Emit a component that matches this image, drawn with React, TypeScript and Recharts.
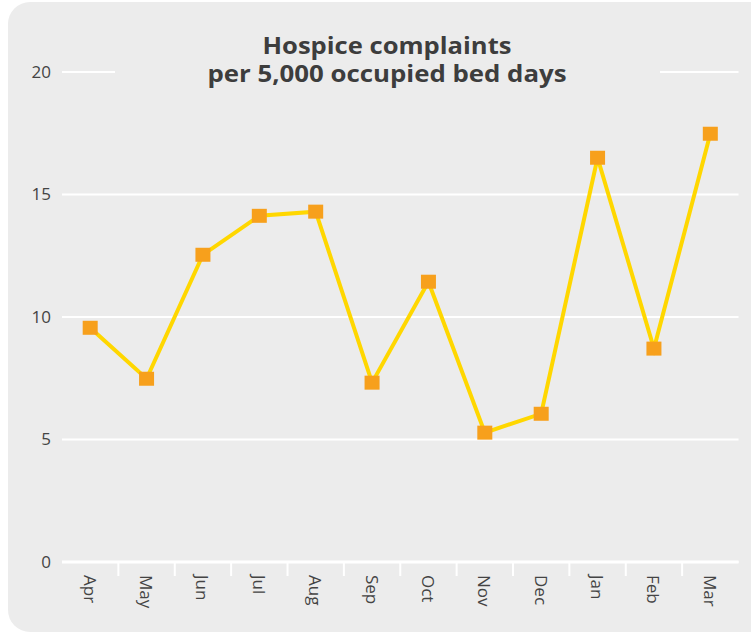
import React from "react";
import { LineChart, Line, XAxis, YAxis, CartesianGrid, Customized } from "recharts";

const months = ["Apr", "May", "Jun", "Jul", "Aug", "Sep", "Oct", "Nov", "Dec", "Jan", "Feb", "Mar"];
const complaints = [9.56, 7.48, 12.54, 14.13, 14.3, 7.32, 11.44, 5.28, 6.05, 16.5, 8.71, 17.48];
const yTicks = [0, 5, 10, 15, 20];
const titleLines = ["Hospice complaints", "per 5,000 occupied bed days"];

const data = months.map((m, i) => ({ month: m, value: complaints[i] }));

const BG = "#ececec";
const TEXT = "#444444";
const FONT = "'Open Sans', sans-serif";

const SquareDot = (props: any) => {
  const { cx, cy } = props;
  if (cx == null || cy == null) return null;
  return <rect x={cx - 7.5} y={cy - 7} width={15} height={14} fill="#f7a01c" />;
};

const XTick = (props: any) => {
  const { x, y, payload, index } = props;
  const step = 676.4 / 12;
  return (
    <g>
      {index > 0 && (
        <line x1={x - step / 2} x2={x - step / 2} y1={y - 1} y2={y + 12} stroke="#ffffff" strokeWidth={2} />
      )}
      <text
        transform={`translate(${x},${y + 11}) rotate(90)`}
        textAnchor="start"
        dominantBaseline="central"
        fill={TEXT}
        fontSize={17}
        fontFamily={FONT}
      >
        {payload.value}
      </text>
    </g>
  );
};

const YTick = (props: any) => {
  const { x, y, payload } = props;
  return (
    <text x={x} y={y} dy="0.35em" textAnchor="end" fill={TEXT} fontSize={17} fontFamily={FONT}>
      {payload.value}
    </text>
  );
};

const Title = () => (
  <g>
    <rect x={115} y={22} width={545} height={68} fill={BG} />
    <text x={387} y={54} textAnchor="middle" fill="#3d3d3d" fontSize={23} fontWeight="bold" fontFamily={FONT} textLength={249} lengthAdjust="spacingAndGlyphs">
      {titleLines[0]}
    </text>
    <text x={387} y={82} textAnchor="middle" fill="#3d3d3d" fontSize={23} fontWeight="bold" fontFamily={FONT} textLength={359} lengthAdjust="spacingAndGlyphs">
      {titleLines[1]}
    </text>
  </g>
);

export default function App() {
  return (
    <div>
      <div
        style={{
          position: "absolute",
          left: 8,
          top: 2,
          width: 770,
          height: 630,
          background: BG,
          borderRadius: 22,
        }}
      />
      <div style={{ position: "absolute", left: 0, top: 0 }}>
        <LineChart width={751} height={634} data={data} margin={{ top: 72, right: 12.5, left: 0, bottom: 12 }}>
          <CartesianGrid vertical={false} stroke="#ffffff" strokeWidth={2} />
          <XAxis
            dataKey="month"
            scale="band"
            axisLine={{ stroke: "#ffffff", strokeWidth: 3 }}
            tickLine={false}
            tickSize={0}
            tick={<XTick />}
            height={60}
            interval={0}
          />
          <YAxis
            domain={[0, 20]}
            ticks={yTicks}
            width={62}
            axisLine={false}
            tickLine={false}
            tickSize={0}
            tickMargin={11}
            tick={<YTick />}
          />
          <Customized component={Title} />
          <Line
            dataKey="value"
            stroke="#ffd700"
            strokeWidth={4}
            dot={<SquareDot />}
            activeDot={false}
            isAnimationActive={false}
          />
        </LineChart>
      </div>
    </div>
  );
}
